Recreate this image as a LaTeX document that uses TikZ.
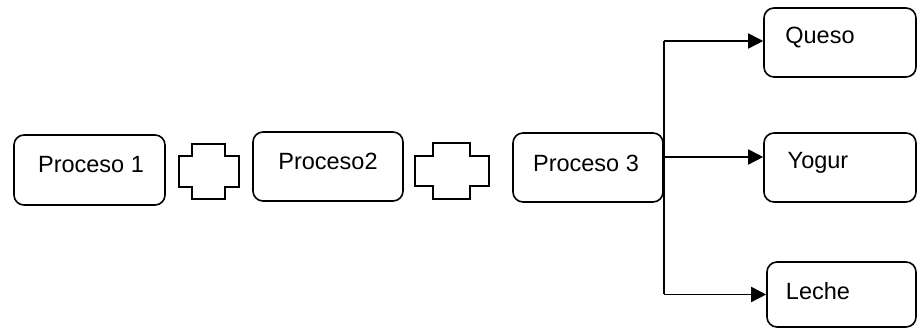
\documentclass[tikz,border=0pt]{standalone}
\usepackage{fontspec}
\setmainfont{Liberation Sans}
\usetikzlibrary{arrows.meta}
\begin{document}
\begin{tikzpicture}[x=1pt,y=-1pt,
  line width=1.6pt,
  procbox/.style={draw, rounded corners=10pt, inner sep=0pt},
  lbl/.style={font=\fontsize{23.5}{28}\selectfont, inner sep=0pt},
  flow/.style={-{Triangle[length=15pt,width=15pt]}}]
\useasboundingbox (0,0) rectangle (918,328);

% process boxes
\node[procbox, minimum width=151pt, minimum height=70pt] (p1) at (89.5,170) {};
\node[procbox, minimum width=150pt, minimum height=69pt] (p2) at (328,166.5) {};
\node[procbox, minimum width=150pt, minimum height=69pt] (p3) at (588,167.5) {};
% product boxes
\node[procbox, minimum width=152pt, minimum height=69pt] (q) at (840,42.5) {};
\node[procbox, minimum width=152pt, minimum height=69pt] (y) at (840,167.5) {};
\node[procbox, minimum width=149pt, minimum height=65pt] (l) at (841.5,294.5) {};

% labels
\node[lbl] (t1) at (91,165) {Proceso 1};
\node[lbl] (t2) at (328,161) {Proceso2};
\node[lbl] (t3) at (586,163) {Proceso 3};
\node[lbl] (tq) at (820,38) {Queso};
\node[lbl] (ty) at (818,163) {Yogur};
\node[lbl] (tl) at (818,291) {Leche};

% connector symbols between processes
\draw (192,144) -- (225,144) -- (225,156) -- (239,156) -- (239,187)
  -- (225,187) -- (225,199) -- (192,199) -- (192,187) -- (179,187)
  -- (179,156) -- (192,156) -- cycle;
\draw (433,143) -- (470,143) -- (470,156) -- (489,156) -- (489,186)
  -- (470,186) -- (470,199) -- (433,199) -- (433,186) -- (415,186)
  -- (415,156) -- (433,156) -- cycle;

% distribution from process 3 to products
\coordinate (top) at ([yshift=1.5pt]q.west -| p3.east);
\coordinate (mid) at ([yshift=10.5pt]y.west -| p3.east);
\coordinate (bot) at (l.west -| p3.east);
\draw (top) -- (bot);
\draw[flow] (top) -- (top -| q.west);
\draw[flow] (mid) -- (mid -| y.west);
\draw[flow] (bot) -- (l.west);
\end{tikzpicture}
\end{document}
